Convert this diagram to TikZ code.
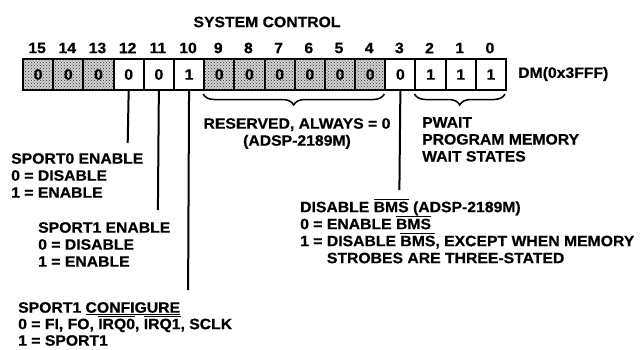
\documentclass[tikz,border=0pt]{standalone}
\usepackage{fontspec}
\setmainfont{Liberation Sans}[FakeStretch=1.05, BoldFeatures={FakeBold=0.6}]
\usetikzlibrary{patterns,decorations.pathreplacing}
\newcommand\ovl[1]{\vbox{\hrule height 1pt\kern1.5pt\hbox{#1}}}
\newcommand\ulc[1]{\vtop{\hbox{#1}\kern1pt\hrule height 1pt}}
\begin{document}
\begin{tikzpicture}[x=1pt,y=-1pt,
  every node/.style={font=\fontsize{15}{17}\selectfont\bfseries, inner sep=0pt},
  cell/.style={draw=black, line width=2pt, minimum width=30.19pt, minimum height=31pt, anchor=north west},
  shaded/.style={cell, fill=gray!35, postaction={pattern=crosshatch dots, pattern color=black!80}},
  lbl/.style={anchor=north west, align=left},
  conn/.style={line width=2pt},
  brc/.style={decorate, decoration={brace, mirror, amplitude=11pt}, line width=1.5pt}]
\useasboundingbox (0,0) rectangle (640,349);
% title
\node (title) at (267,22) {SYSTEM CONTROL};
% cells
\foreach \b in {15,14,13,9,8,7,6,5,4}
  \node[shaded] (c\b) at ({22+(15-\b)*30.19},58) {0};
\foreach \b/\v in {12/0,11/0,10/1,3/0,2/1,1/1,0/1}
  \node[cell] (c\b) at ({22+(15-\b)*30.19},58) {\v};
% bit numbers
\foreach \b in {0,...,15}
  \node (n\b) at ({22+(15.5-\b)*30.19},48) {\b};
\node[anchor=west] (dm) at (518,74) {DM(0x3FFF)};
% braces
\coordinate (b1s) at (203.1,94);
\coordinate (b1e) at (384.3,94);
\coordinate (b2s) at (414.5,94);
\coordinate (b2e) at (505,94);
\draw[brc] (b1s) -- (b1e);
\draw[brc] (b2s) -- (b2e);
% connectors
\coordinate (e12) at (127.7,143);
\coordinate (e11) at (157.9,210);
\coordinate (e10) at (188.1,290);
\coordinate (e3) at (399.4,190);
\draw[conn] (c12.south) -- (e12);
\draw[conn] (c11.south) -- (e11);
\draw[conn] (c10.south) -- (e10);
\draw[conn] (c3.south) -- (e3);
% labels
\node[anchor=north, align=center] (res) at (297,118) {RESERVED, ALWAYS = 0\\(ADSP-2189M)};
\node[lbl] (pwait) at (422,117) {PWAIT\\PROGRAM MEMORY\\WAIT STATES};
\node[lbl] (sp0) at (11,153) {SPORT0 ENABLE\\0 = DISABLE\\1 = ENABLE};
\node[lbl] (sp1) at (38,222) {SPORT1 ENABLE\\0 = DISABLE\\1 = ENABLE};
\node[lbl, font=\fontsize{15}{16.5}\selectfont\bfseries] (sp1c) at (18,302) {SPORT1 \ulc{CONFIGURE}\\0 = FI, FO, \ovl{IRQ0}, \ovl{IRQ1}, SCLK\\1 = SPORT1};
\node[lbl] (bms) at (300,199) {DISABLE \ovl{BMS} (ADSP-2189M)\\0 = ENABLE \ovl{BMS}\\1 = DISABLE \ovl{BMS}, EXCEPT WHEN MEMORY\\\hphantom{1 = }STROBES ARE THREE-STATED};
\end{tikzpicture}
\end{document}
